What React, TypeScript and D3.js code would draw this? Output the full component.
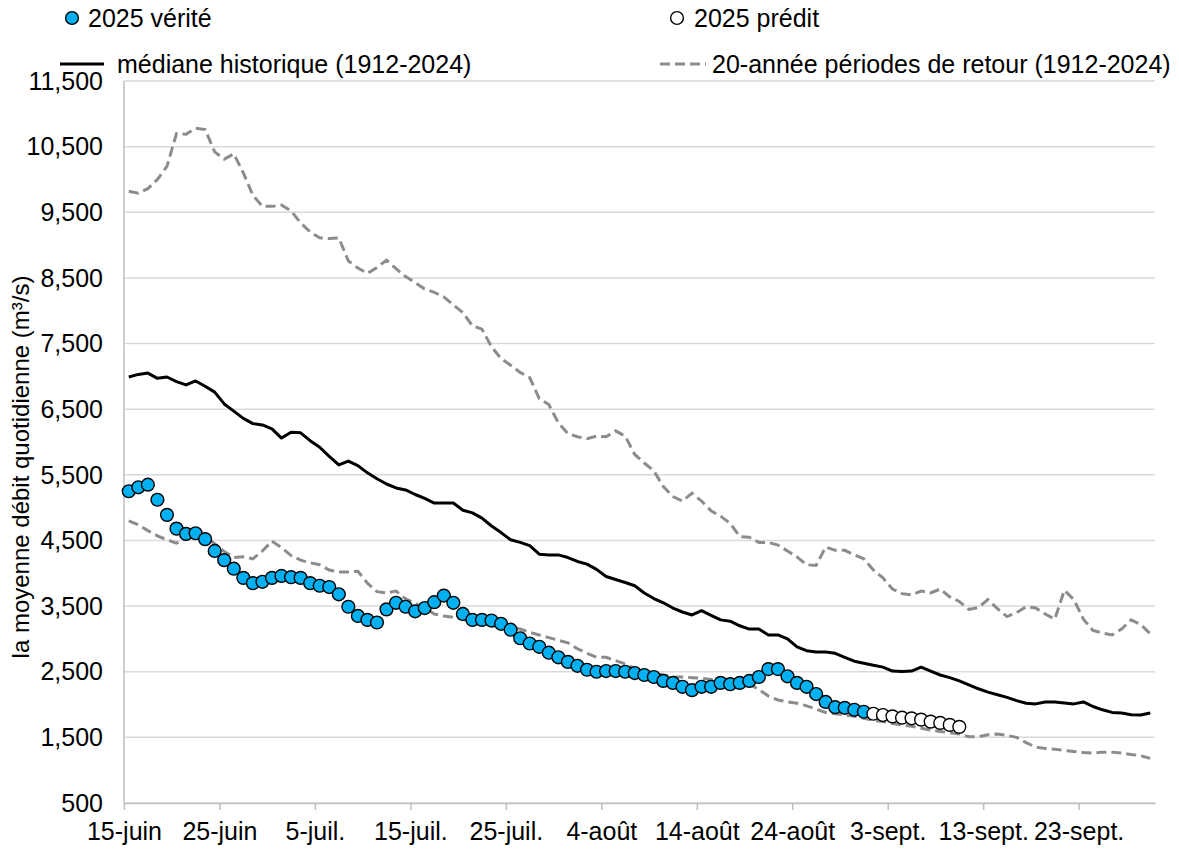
import React, { useEffect, useRef } from 'react';
import * as d3 from 'd3';

// Daily flows from 15 June, in m3/s
const dayTicks = [0, 10, 20, 30, 40, 50, 60, 70, 80, 90, 100];
const dayLabels = ['15-juin', '25-juin', '5-juil.', '15-juil.', '25-juil.', '4-août', '14-août', '24-août', '3-sept.', '13-sept.', '23-sept.'];
const yTicks = [500, 1500, 2500, 3500, 4500, 5500, 6500, 7500, 8500, 9500, 10500, 11500];

const verite = [
  5250, 5310, 5350, 5120, 4890, 4680, 4600, 4610, 4520, 4340,
  4200, 4070, 3930, 3850, 3870, 3930, 3960, 3940, 3930, 3850,
  3810, 3790, 3680, 3490, 3350, 3290, 3250, 3450, 3550, 3490,
  3420, 3470, 3560, 3660, 3550, 3380, 3290, 3290, 3280, 3230,
  3140, 3010, 2930, 2880, 2790, 2720, 2650, 2590, 2530, 2500,
  2510, 2510, 2500, 2480, 2450, 2420, 2360, 2330, 2270, 2220,
  2270, 2270, 2330, 2310, 2330, 2360, 2420, 2540, 2540, 2430,
  2330, 2270, 2160, 2040, 1960, 1950, 1920, 1890
];

const predit = [1860, 1840, 1820, 1800, 1790, 1770, 1740, 1720, 1690, 1660];

const mediane = [
  6990, 7030, 7050, 6970, 6990, 6920, 6870, 6930, 6850, 6760,
  6580, 6470, 6360, 6280, 6260, 6200, 6060, 6150, 6140, 6020,
  5920, 5780, 5650, 5710, 5640, 5530, 5440, 5360, 5300, 5270,
  5200, 5140, 5070, 5070, 5070, 4960, 4920, 4840, 4720, 4620,
  4510, 4470, 4420, 4290, 4280, 4280, 4240, 4180, 4140, 4060,
  3950, 3905, 3860, 3810, 3700, 3615, 3550, 3470, 3410, 3365,
  3430, 3360, 3290, 3270, 3200, 3150, 3150, 3060, 3060, 3000,
  2880, 2820, 2800, 2800, 2780, 2720, 2660, 2630, 2600, 2570,
  2510, 2505, 2510, 2570, 2510, 2450, 2410, 2360, 2300, 2240,
  2190, 2150, 2110, 2060, 2020, 2010, 2040, 2040, 2025, 2010,
  2040, 1970, 1920, 1880, 1870, 1845, 1840, 1870
];

const retourHaut = [
  9820, 9790, 9860, 10000, 10200, 10700, 10690, 10780, 10760, 10420,
  10310, 10390, 10100, 9760, 9590, 9590, 9610, 9520, 9340, 9200,
  9110, 9100, 9110, 8760, 8650, 8570, 8660, 8770, 8640, 8520,
  8430, 8330, 8280, 8210, 8090, 7970, 7770, 7720, 7450, 7270,
  7170, 7060, 6980, 6660, 6570, 6290, 6130, 6080, 6050, 6090,
  6080, 6170, 6090, 5810, 5680, 5560, 5320, 5170, 5100, 5220,
  5100, 4950, 4870, 4760, 4560, 4550, 4470, 4470, 4430, 4340,
  4250, 4130, 4120, 4400, 4350, 4350, 4280, 4220, 4050, 3930,
  3760, 3690, 3670, 3730, 3700, 3760, 3640, 3570, 3450, 3480,
  3600, 3460, 3340, 3400, 3490, 3470, 3380, 3300, 3740, 3600,
  3300, 3130, 3090, 3060, 3150, 3290, 3220, 3080
];

const retourBas = [
  4800, 4740, 4650, 4570, 4510, 4460, 4530, 4600, 4560, 4450,
  4330, 4240, 4250, 4220, 4340, 4490, 4390, 4270, 4200, 4160,
  4130, 4050, 4020, 4020, 4030, 3850, 3720, 3700, 3730, 3610,
  3540, 3470, 3380, 3350, 3330, 3300, 3260, 3230, 3200, 3180,
  3170, 3150, 3100, 3060, 3020, 2980, 2940, 2850, 2780, 2720,
  2720, 2670, 2620, 2550, 2510, 2480, 2450, 2420, 2420, 2410,
  2400, 2380, 2360, 2340, 2330, 2310, 2230, 2130, 2070, 2040,
  2020, 1980, 1930, 1880, 1860, 1840, 1820, 1790, 1760, 1740,
  1710, 1690, 1670, 1640, 1610, 1590, 1570, 1550, 1510, 1510,
  1540, 1550, 1530, 1500, 1420, 1350, 1330, 1320, 1300, 1285,
  1270, 1260, 1275, 1275, 1260, 1240, 1220, 1180
];

const FONT = '"Liberation Sans", Arial, sans-serif';
const BLUE = '#00B0F0';
const GREY = '#8c8c8c';
const DOT_R = 6.4;

const App = () => {
  const svgRef = useRef<SVGSVGElement>(null);

  useEffect(() => {
    const svg = d3.select(svgRef.current);
    svg.selectAll('*').remove();

    const W = 1179;
    const H = 852;
    const margin = { top: 81, right: 24, bottom: 49, left: 124 };
    const width = W - margin.left - margin.right;
    const height = H - margin.top - margin.bottom;

    const x = d3.scaleLinear().domain([0, 108]).range([0, width]);
    const y = d3.scaleLinear().domain([500, 11500]).range([height, 0]);

    const g = svg.append('g').attr('transform', `translate(${margin.left},${margin.top})`);

    // gridlines
    g.append('g')
      .selectAll('line')
      .data(yTicks)
      .join('line')
      .attr('x1', 0)
      .attr('x2', width)
      .attr('y1', d => y(d))
      .attr('y2', d => y(d))
      .attr('stroke', '#d9d9d9')
      .attr('stroke-width', 1.5);

    // y labels
    g.append('g')
      .selectAll('text')
      .data(yTicks)
      .join('text')
      .attr('x', -21)
      .attr('y', d => y(d))
      .attr('dy', '0.35em')
      .attr('text-anchor', 'end')
      .style('font-family', FONT)
      .style('font-size', '25px')
      .attr('fill', '#000')
      .text(d => d3.format(',')(d));

    // left axis line
    g.append('line')
      .attr('x1', 0).attr('x2', 0)
      .attr('y1', 0).attr('y2', height)
      .attr('stroke', '#bfbfbf')
      .attr('stroke-width', 1.5);

    // x axis
    const xAxis = g.append('g')
      .attr('transform', `translate(0,${height})`)
      .call(
        d3.axisBottom(x)
          .tickValues(dayTicks)
          .tickSize(7)
          .tickSizeOuter(0)
          .tickPadding(12)
          .tickFormat((d, i) => dayLabels[i])
      );
    xAxis.select('.domain').attr('stroke', '#bfbfbf').attr('stroke-width', 1.5);
    xAxis.selectAll('.tick line').attr('stroke', '#bfbfbf').attr('stroke-width', 1.5);
    xAxis.selectAll('.tick text')
      .attr('fill', '#000')
      .style('font-family', FONT)
      .style('font-size', '25px');

    // lines
    const line = d3.line<number>()
      .x((d, i) => x(i + 0.5))
      .y(d => y(d));

    g.append('path')
      .datum(retourHaut)
      .attr('fill', 'none')
      .attr('stroke', GREY)
      .attr('stroke-width', 3)
      .attr('stroke-dasharray', '10,5')
      .attr('d', line);

    g.append('path')
      .datum(retourBas)
      .attr('fill', 'none')
      .attr('stroke', GREY)
      .attr('stroke-width', 3)
      .attr('stroke-dasharray', '10,5')
      .attr('d', line);

    g.append('path')
      .datum(mediane)
      .attr('fill', 'none')
      .attr('stroke', '#000')
      .attr('stroke-width', 3)
      .attr('stroke-linejoin', 'round')
      .attr('d', line);

    // observed points
    g.append('g')
      .selectAll('circle')
      .data(verite)
      .join('circle')
      .attr('cx', (d, i) => x(i + 0.5))
      .attr('cy', d => y(d))
      .attr('r', DOT_R)
      .attr('fill', BLUE)
      .attr('stroke', '#000')
      .attr('stroke-width', 1.4);

    // forecast points
    g.append('g')
      .selectAll('circle')
      .data(predit)
      .join('circle')
      .attr('cx', (d, i) => x(i + verite.length + 0.5))
      .attr('cy', d => y(d))
      .attr('r', DOT_R)
      .attr('fill', '#fff')
      .attr('stroke', '#000')
      .attr('stroke-width', 1.4);

    // y axis title
    svg.append('text')
      .attr('transform', 'translate(29,467) rotate(-90)')
      .attr('text-anchor', 'middle')
      .style('font-family', FONT)
      .style('font-size', '24px')
      .attr('fill', '#000')
      .text('la moyenne débit quotidienne (m³/s)');

    // legend
    const legend = svg.append('g');
    const txt = (lx: number, ly: number, s: string) =>
      legend.append('text')
        .attr('x', lx)
        .attr('y', ly)
        .attr('dy', '0.35em')
        .style('font-family', FONT)
        .style('font-size', '25px')
        .attr('fill', '#000')
        .text(s);

    legend.append('circle').attr('cx', 72).attr('cy', 18).attr('r', DOT_R)
      .attr('fill', BLUE).attr('stroke', '#000').attr('stroke-width', 1.4);
    txt(88, 18, '2025 vérité');

    legend.append('circle').attr('cx', 677).attr('cy', 18).attr('r', DOT_R)
      .attr('fill', '#fff').attr('stroke', '#000').attr('stroke-width', 1.4);
    txt(694, 18, '2025 prédit');

    legend.append('line').attr('x1', 60).attr('x2', 104).attr('y1', 64).attr('y2', 64)
      .attr('stroke', '#000').attr('stroke-width', 3);
    txt(117, 64, 'médiane historique (1912-2024)');

    legend.append('line').attr('x1', 660).attr('x2', 706).attr('y1', 64).attr('y2', 64)
      .attr('stroke', GREY).attr('stroke-width', 3).attr('stroke-dasharray', '10,5');
    txt(712, 64, '20-année périodes de retour (1912-2024)');
  }, []);

  return (
    <svg
      ref={svgRef}
      width={1179}
      height={852}
      style={{ position: 'absolute', left: 0, top: 0, background: '#fff' }}
    />
  );
};

export default App;
